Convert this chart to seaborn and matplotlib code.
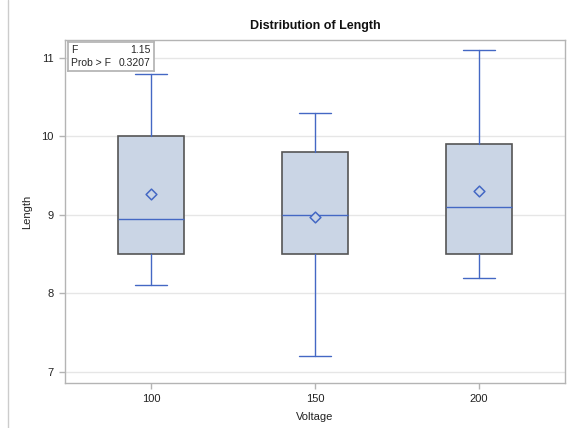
import matplotlib
matplotlib.use("Agg")
import matplotlib.pyplot as plt
from matplotlib.lines import Line2D
import seaborn as sns
import pandas as pd

# Summary statistics of Length for each Voltage level
voltage = ["100", "150", "200"]
whisker_low = [8.1, 7.2, 8.2]
q1 = [8.5, 8.5, 8.5]
median = [8.95, 9.0, 9.1]
q3 = [10.0, 9.8, 9.9]
whisker_high = [10.8, 10.3, 11.1]
mean = [9.26, 8.97, 9.31]

f_value = "1.15"
prob_f = "0.3207"

sns.set_theme(style="white")
plt.rcParams["font.family"] = ["Liberation Sans", "DejaVu Sans"]

fill = "#CAD5E5"
edge = "#555555"
blue = "#4468C4"

fig = plt.figure(figsize=(5.7, 4.28), dpi=100)
ax = fig.add_axes([65 / 570, 1 - 383 / 428, 500 / 570, 343 / 428])

stats = [
    dict(label=v, whislo=lo, q1=a, med=m, q3=b, whishi=hi, mean=mu)
    for v, lo, a, m, b, hi, mu in zip(voltage, whisker_low, q1, median, q3, whisker_high, mean)
]
ax.bxp(
    stats, positions=range(len(voltage)), widths=0.4, capwidths=0.2,
    showfliers=False, showmeans=False, patch_artist=True,
    boxprops=dict(facecolor=fill, edgecolor=edge, linewidth=1.2),
    whiskerprops=dict(color=blue, linewidth=1.0),
    capprops=dict(color=blue, linewidth=1.0),
    medianprops=dict(color=blue, linewidth=1.0),
    zorder=3,
)

means = pd.DataFrame({"Voltage": range(len(voltage)), "Mean": mean})
sns.scatterplot(data=means, x="Voltage", y="Mean", marker="D", s=30,
                facecolor=fill, edgecolor=blue, linewidth=1.1, ax=ax, zorder=4)

ax.set_xlim(-0.524, 2.524)
ax.set_ylim(6.856, 11.23)
ax.set_xticks(range(len(voltage)))
ax.set_xticklabels(voltage)
ax.set_yticks([7, 8, 9, 10, 11])
ax.yaxis.grid(True, color="#E6E6E6", linewidth=1)
ax.set_axisbelow(True)
for s in ax.spines.values():
    s.set_color("#B4B4B4")
    s.set_linewidth(1)
ax.tick_params(axis="both", direction="out", length=4, width=1, color="#B4B4B4",
               labelsize=8, labelcolor="#222222", pad=4, left=True, bottom=True)
ax.set_xlabel("Voltage", fontsize=8, color="#222222", labelpad=6)
ax.set_ylabel("Length", fontsize=8, color="#222222", labelpad=7)
ax.set_title("Distribution of Length", fontsize=9, fontweight="bold", color="#111111", pad=8)

# inset with the ANOVA F statistic
inset = fig.add_axes([68 / 570, 1 - 71 / 428, 86 / 570, 29 / 428])
inset.set_xticks([]); inset.set_yticks([])
inset.set_facecolor("white")
for s in inset.spines.values():
    s.set_color("#B4B4B4")
inset.text(0.04, 0.74, "F", fontsize=7.5, va="center", ha="left", transform=inset.transAxes)
inset.text(0.96, 0.74, f_value, fontsize=7.5, va="center", ha="right", transform=inset.transAxes)
inset.text(0.04, 0.27, "Prob > F", fontsize=7.5, va="center", ha="left", transform=inset.transAxes)
inset.text(0.96, 0.27, prob_f, fontsize=7.5, va="center", ha="right", transform=inset.transAxes)

# left page border
fig.add_artist(Line2D([8 / 570, 8 / 570], [0, 1], color="#CCCCCC", linewidth=1,
                      transform=fig.transFigure))

fig.savefig("out.png", dpi=100)
